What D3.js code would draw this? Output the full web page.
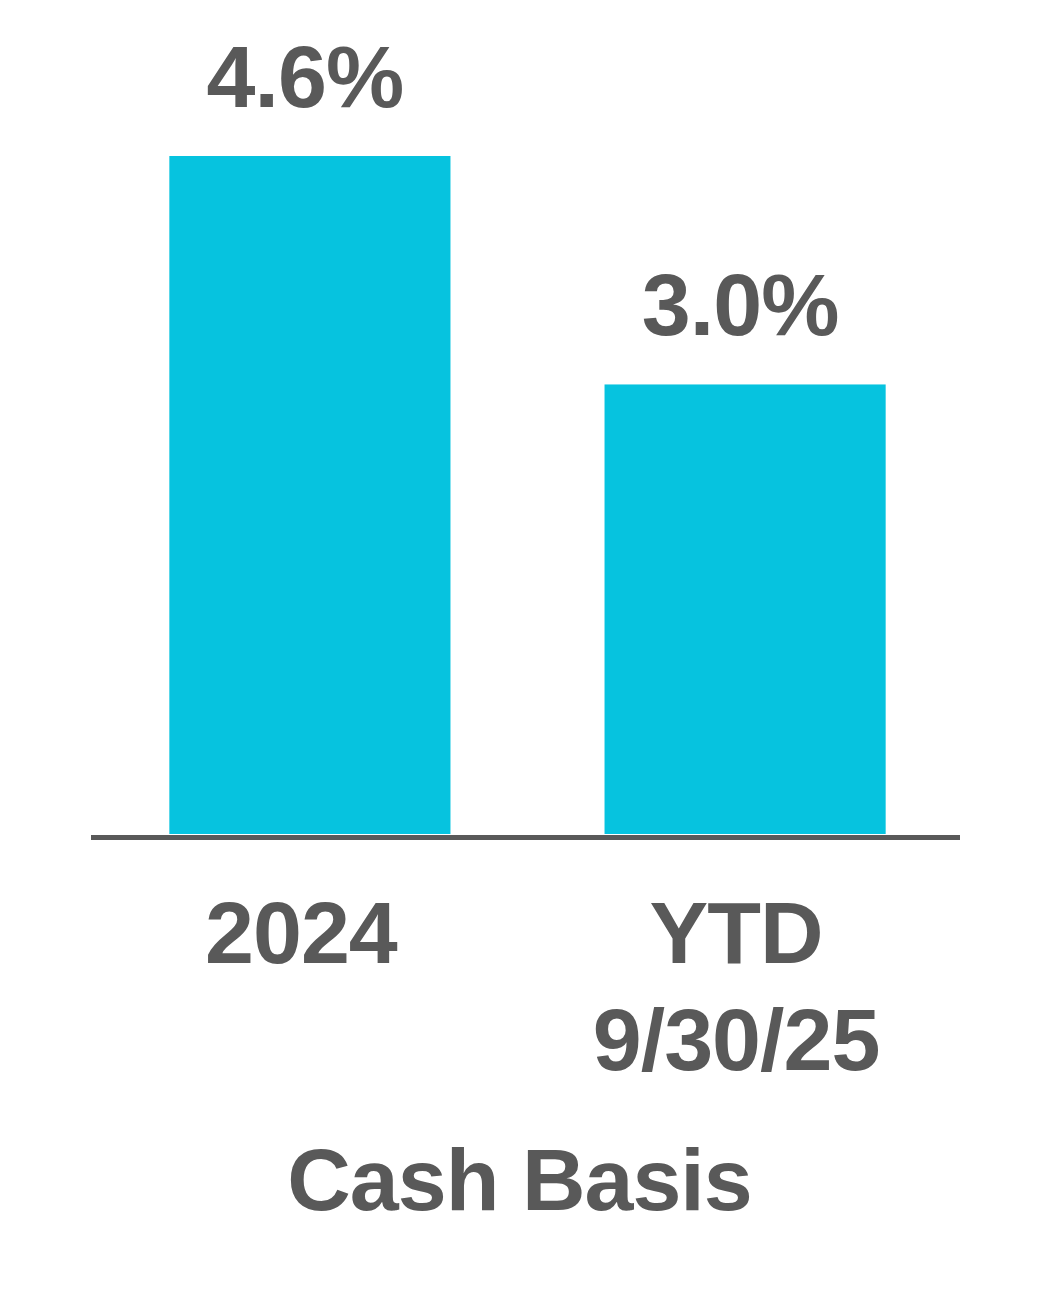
<!DOCTYPE html>
<html>
<head>
<meta charset="utf-8">
<script src="https://cdn.jsdelivr.net/npm/d3@7"></script>
<style>
  html, body { margin: 0; padding: 0; background: #fff; }
  text { font-family: "Liberation Sans", Arial, sans-serif; font-weight: bold; fill: #595959; }
</style>
</head>
<body>
<div id="chart"></div>
<script>
// data
const categories = ['2024', 'YTD'];
const categoryLines = [['2024'], ['YTD', '9/30/25']];
const values = [4.6, 3.05];
const valueLabels = ['4.6%', '3.0%'];
const axisTitle = 'Cash Basis';

const width = 1050, height = 1314;
const baseY = 834;
const axisX = [91, 960];

const svg = d3.select('#chart').append('svg')
  .attr('width', width)
  .attr('height', height);

const x = d3.scaleBand()
  .domain(categories)
  .range([91, 964])
  .paddingInner(0.354)
  .paddingOuter(0.18);

const y = d3.scaleLinear()
  .domain([0, 4.6])
  .range([baseY, 156]);

// bars
svg.selectAll('rect.bar')
  .data(values)
  .join('rect')
    .attr('class', 'bar')
    .attr('x', (d, i) => x(categories[i]))
    .attr('y', d => y(d))
    .attr('width', x.bandwidth())
    .attr('height', d => baseY - y(d))
    .attr('fill', '#06C3DF');

// baseline
svg.append('line')
  .attr('x1', axisX[0])
  .attr('x2', axisX[1])
  .attr('y1', baseY + 3.5)
  .attr('y2', baseY + 3.5)
  .attr('stroke', '#595959')
  .attr('stroke-width', 5);

// value labels
svg.selectAll('text.val')
  .data(values)
  .join('text')
    .attr('class', 'val')
    .attr('x', (d, i) => x(categories[i]) + x.bandwidth() / 2 - 5)
    .attr('y', d => y(d) - 49)
    .attr('text-anchor', 'middle')
    .attr('font-size', 88)
    .attr('letter-spacing', '-1px')
    .text((d, i) => valueLabels[i]);

// category labels
categoryLines.forEach((lines, i) => {
  const t = svg.append('text')
    .attr('text-anchor', 'middle')
    .attr('font-size', 88)
    .attr('letter-spacing', '-1px');
  lines.forEach((ln, j) => {
    t.append('tspan')
      .attr('x', x(categories[i]) + x.bandwidth() / 2 - 9)
      .attr('y', 963 + j * 107)
      .text(ln);
  });
});

// axis title
svg.append('text')
  .attr('x', (axisX[0] + axisX[1]) / 2 - 6)
  .attr('y', 1210)
  .attr('text-anchor', 'middle')
  .attr('font-size', 88)
  .attr('letter-spacing', '-1px')
  .text(axisTitle);
</script>
</body>
</html>
